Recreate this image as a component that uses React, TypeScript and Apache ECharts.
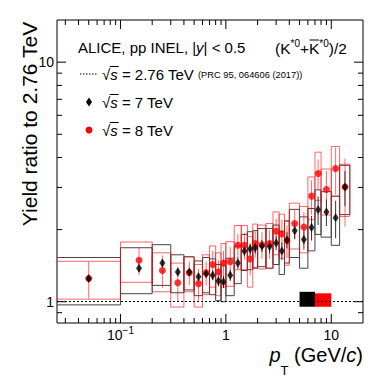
import React, { useEffect, useRef } from 'react';
import * as echarts from 'echarts';

const FONT = '"Liberation Sans", Arial, Helvetica, sans-serif';

// pT bins (GeV/c)
const binLow = [0, 0.1, 0.2, 0.3, 0.4, 0.5, 0.6, 0.7, 0.8, 0.9, 1.0, 1.2, 1.4, 1.6, 1.8, 2.0, 2.4, 2.8, 3.2, 3.6, 4.0, 5.0, 6.0, 7.0, 8.0, 10.0, 12.0];
const binHigh = [0.1, 0.2, 0.3, 0.4, 0.5, 0.6, 0.7, 0.8, 0.9, 1.0, 1.2, 1.4, 1.6, 1.8, 2.0, 2.4, 2.8, 3.2, 3.6, 4.0, 5.0, 6.0, 7.0, 8.0, 10.0, 12.0, 15.0];
const ptCenter = [0.05, 0.15, 0.25, 0.35, 0.45, 0.55, 0.65, 0.75, 0.85, 0.95, 1.1, 1.3, 1.5, 1.7, 1.9, 2.2, 2.6, 3.0, 3.4, 3.8, 4.5, 5.5, 6.5, 7.5, 9.0, 11.0, 13.5];

// sqrt(s) = 7 TeV / 2.76 TeV
const ratio7 = [1.25, 1.38, 1.45, 1.33, 1.33, 1.27, 1.31, 1.29, 1.22, 1.21, 1.29, 1.45, 1.63, 1.66, 1.68, 1.71, 1.70, 1.76, 1.63, 1.81, 1.98, 1.82, 2.04, 2.42, 2.37, 2.24, 3.01];
const stat7 = [0.03, 0.05, 0.05, 0.05, 0.05, 0.05, 0.05, 0.06, 0.06, 0.07, 0.07, 0.08, 0.08, 0.09, 0.09, 0.10, 0.11, 0.12, 0.14, 0.14, 0.15, 0.17, 0.24, 0.33, 0.30, 0.40, 0.50];
const sys7 = [0.28, 0.30, 0.28, 0.24, 0.21, 0.21, 0.22, 0.22, 0.21, 0.21, 0.23, 0.26, 0.28, 0.30, 0.30, 0.31, 0.32, 0.33, 0.33, 0.36, 0.45, 0.44, 0.41, 0.51, 0.51, 0.52, 0.70];

// sqrt(s) = 8 TeV / 2.76 TeV
const ratio8 = [1.25, 1.49, 1.35, 1.20, 1.32, 1.19, 1.32, 1.43, 1.33, 1.45, 1.47, 1.72, 1.72, 1.51, 1.75, 1.73, 1.75, 1.97, 1.92, 1.80, 2.12, 2.05, 2.76, 3.43, 2.94, 3.60, 3.01];
const stat8 = [0.22, 0.20, 0.21, 0.20, 0.15, 0.18, 0.15, 0.20, 0.16, 0.18, 0.22, 0.20, 0.22, 0.22, 0.22, 0.22, 0.24, 0.25, 0.28, 0.28, 0.30, 0.32, 0.45, 0.50, 0.58, 0.80, 0.95];
const sys8 = [0.225, 0.285, 0.25, 0.25, 0.22, 0.24, 0.25, 0.28, 0.27, 0.30, 0.31, 0.36, 0.36, 0.36, 0.36, 0.36, 0.37, 0.40, 0.40, 0.38, 0.46, 0.45, 0.56, 0.78, 0.64, 0.85, 0.74];

// normalization uncertainty boxes
const norm7X = [5, 7];
const norm7Y = [0.953, 1.10];
const norm8X = [7, 10];
const norm8Y = [0.953, 1.084];

// axes
const X_MIN = 0.025;
const X_MAX = 20;
const Y_MIN = 0.815;
const Y_MAX = 15;
const xMajorTicks = [0.1, 1, 10];
const xMinorTicks = [0.03, 0.04, 0.05, 0.06, 0.07, 0.08, 0.09, 0.2, 0.3, 0.4, 0.5, 0.6, 0.7, 0.8, 0.9, 2, 3, 4, 5, 6, 7, 8, 9];
const yMajorTicks = [1, 10];
const yMinorTicks = [0.9, 2, 3, 4, 5, 6, 7, 8, 9];
const xTickLabelVals = [0.1, 1, 10];
const xTickLabelBase = ['10', '1', '10'];
const xTickLabelExp = ['\u22121', '', ''];
const yTickLabelVals = [1, 10];
const yTickLabelText = ['1', '10'];

const RED = '#ff0000';

export default function App() {
  const ref = useRef<HTMLDivElement>(null);
  useEffect(() => {
    const el = ref.current!;
    const chart = echarts.init(el, undefined, { renderer: 'svg', width: 382, height: 382 });
    const ctx = document.createElement('canvas').getContext('2d')!;
    const measure = (t: string, size: number, style = 'normal') => {
      ctx.font = `${style} ${size}px ${FONT}`;
      return ctx.measureText(t).width;
    };

    const boxSeries = (vals: number[], sys: number[], color: string, name: string) => ({
      type: 'custom',
      name,
      clip: true,
      data: ptCenter.map((x, i) => [x, vals[i], binLow[i], binHigh[i], sys[i]]),
      renderItem: (params: any, api: any) => {
        const cs = params.coordSys;
        const y = api.value(1);
        const xlo = api.value(2);
        const xhi = api.value(3);
        const s = api.value(4);
        const left = xlo > 0 ? api.coord([xlo, y])[0] : cs.x - 3;
        const right = api.coord([xhi, y])[0];
        const top = api.coord([xhi, y + s])[1];
        const bottom = api.coord([xhi, y - s])[1];
        return {
          type: 'rect',
          shape: { x: left, y: top, width: right - left, height: bottom - top },
          style: { fill: 'none', stroke: color, lineWidth: 1 },
        };
      },
    });

    const statSeries = (vals: number[], stat: number[], color: string, name: string) => ({
      type: 'custom',
      name,
      clip: true,
      data: ptCenter.map((x, i) => [x, vals[i], stat[i]]),
      renderItem: (params: any, api: any) => {
        const x = api.value(0);
        const y = api.value(1);
        const e = api.value(2);
        const p1 = api.coord([x, y + e]);
        const p2 = api.coord([x, y - e]);
        return {
          type: 'line',
          shape: { x1: p1[0], y1: p1[1], x2: p2[0], y2: p2[1] },
          style: { stroke: color, lineWidth: 1 },
        };
      },
    });

    const normSeries = (xs: number[], ys: number[], color: string) => ({
      type: 'custom',
      clip: true,
      data: [[xs[0], ys[0], xs[1], ys[1]]],
      renderItem: (params: any, api: any) => {
        const p1 = api.coord([api.value(0), api.value(3)]);
        const p2 = api.coord([api.value(2), api.value(1)]);
        return {
          type: 'rect',
          shape: { x: p1[0], y: p1[1], width: p2[0] - p1[0], height: p2[1] - p1[1] },
          style: { fill: color, stroke: 'none' },
        };
      },
    });

    const xTickSeries = {
      type: 'custom',
      clip: false,
      data: [...xMajorTicks.map((v) => [v, 1, 1]), ...xMinorTicks.map((v) => [v, 1, 0])],
      renderItem: (params: any, api: any) => {
        const cs = params.coordSys;
        const px = api.coord([api.value(0), 1])[0];
        const len = api.value(2) ? 9 : 5;
        const st = { stroke: '#000', lineWidth: 1 };
        return {
          type: 'group',
          children: [
            { type: 'line', shape: { x1: px, y1: cs.y + cs.height, x2: px, y2: cs.y + cs.height - len }, style: st },
            { type: 'line', shape: { x1: px, y1: cs.y, x2: px, y2: cs.y + len }, style: st },
          ],
        };
      },
    };

    const yTickSeries = {
      type: 'custom',
      clip: false,
      data: [...yMajorTicks.map((v) => [1, v, 1]), ...yMinorTicks.map((v) => [1, v, 0])],
      renderItem: (params: any, api: any) => {
        const cs = params.coordSys;
        const py = api.coord([1, api.value(1)])[1];
        const len = api.value(2) ? 9 : 5;
        const st = { stroke: '#000', lineWidth: 1 };
        return {
          type: 'group',
          children: [
            { type: 'line', shape: { x1: cs.x, y1: py, x2: cs.x + len, y2: py }, style: st },
            { type: 'line', shape: { x1: cs.x + cs.width, y1: py, x2: cs.x + cs.width - len, y2: py }, style: st },
          ],
        };
      },
    };

    const xLabelSeries = {
      type: 'custom',
      clip: false,
      data: xTickLabelVals.map((v, i) => [v, 1, i]),
      renderItem: (params: any, api: any) => {
        const cs = params.coordSys;
        const i = api.value(2);
        const px = api.coord([api.value(0), 1])[0];
        const base = xTickLabelBase[i];
        const exp = xTickLabelExp[i];
        const wb = measure(base, 14);
        const we = exp ? measure(exp, 10) : 0;
        const x0 = px - (wb + we) / 2;
        const yb = cs.y + cs.height + 12;
        const children: any[] = [
          { type: 'text', x: x0, y: yb, style: { text: base, font: `14px ${FONT}`, fill: '#000', align: 'left', verticalAlign: 'middle' } },
        ];
        if (exp) {
          children.push({ type: 'text', x: x0 + wb, y: yb - 5, style: { text: exp, font: `10px ${FONT}`, fill: '#000', align: 'left', verticalAlign: 'middle' } });
        }
        return { type: 'group', children };
      },
    };

    const yLabelSeries = {
      type: 'custom',
      clip: false,
      data: yTickLabelVals.map((v, i) => [1, v, i]),
      renderItem: (params: any, api: any) => {
        const cs = params.coordSys;
        const i = api.value(2);
        const py = api.coord([1, api.value(1)])[1];
        return {
          type: 'text',
          x: cs.x - 3,
          y: py,
          style: { text: yTickLabelText[i], font: `14px ${FONT}`, fill: '#000', align: 'right', verticalAlign: 'middle' },
        };
      },
    };

    // legend / annotation geometry
    const lx = 102;
    const fs = 15;
    const wSqrt = measure('\u221a', fs);
    const wS = measure('s', fs, 'italic');
    const kx = 275;
    const kfs = 15.5;
    const wA = measure('(K', kfs);
    const wSup = measure('*0', 10);
    const wPlus = measure('+', kfs);
    const wK = measure('K', kfs);
    const kbarX = kx + wA + wSup + wPlus;

    const sqrtText = (y: number, rest: string) => [
      {
        type: 'text',
        x: lx,
        y,
        style: {
          text: `\u221a{i|s}${rest}`,
          font: `${fs}px ${FONT}`,
          fill: '#000',
          align: 'left',
          verticalAlign: 'middle',
          rich: { i: { fontStyle: 'italic', fontSize: fs, fontFamily: FONT } },
        },
      },
      { type: 'line', shape: { x1: lx + wSqrt - 0.5, y1: y - 7.5, x2: lx + wSqrt + wS + 1, y2: y - 7.5 }, style: { stroke: '#000', lineWidth: 1 } },
    ];

    const xTitleY = 355;
    const wRest = measure(' (GeV/', 20) + measure('c', 20, 'italic') + measure(')', 20);
    const wT = measure('T', 13);
    const wp = measure('p', 20, 'italic');
    const xTitleRight = 363;
    const xRestStart = xTitleRight - wRest;
    const xTStart = xRestStart - wT;
    const xpStart = xTStart - wp;

    const graphic: any[] = [
      {
        type: 'text',
        x: 29,
        y: 124,
        rotation: Math.PI / 2,
        style: { text: 'Yield ratio to 2.76 TeV', font: `21px ${FONT}`, fill: '#000', align: 'center', verticalAlign: 'middle' },
      },
      { type: 'text', x: xpStart, y: xTitleY, style: { text: 'p', font: `italic 20px ${FONT}`, fill: '#000', align: 'left', verticalAlign: 'middle' } },
      { type: 'text', x: xTStart, y: xTitleY + 15, style: { text: 'T', font: `13px ${FONT}`, fill: '#000', align: 'left', verticalAlign: 'middle' } },
      {
        type: 'text',
        x: xRestStart,
        y: xTitleY,
        style: {
          text: ' (GeV/{i|c})',
          font: `20px ${FONT}`,
          fill: '#000',
          align: 'left',
          verticalAlign: 'middle',
          rich: { i: { fontStyle: 'italic', fontSize: 20, fontFamily: FONT } },
        },
      },
      {
        type: 'text',
        x: 78,
        y: 47,
        style: {
          text: 'ALICE, pp INEL, |{i|y}| < 0.5',
          font: `15px ${FONT}`,
          fill: '#000',
          align: 'left',
          verticalAlign: 'middle',
          rich: { i: { fontStyle: 'italic', fontSize: 15, fontFamily: FONT } },
        },
      },
      {
        type: 'text',
        x: kx,
        y: 47,
        style: {
          text: '{m|(K}{s|*0}{m|+K}{s|*0}{m|)/2}',
          fill: '#000',
          align: 'left',
          verticalAlign: 'middle',
          rich: {
            m: { fontSize: kfs, fontFamily: FONT, lineHeight: 18, verticalAlign: 'bottom' },
            s: { fontSize: 10, fontFamily: FONT, lineHeight: 10, verticalAlign: 'top', padding: [0, 0, 9, 0] },
          },
        },
      },
      { type: 'line', shape: { x1: kbarX + 0.5, y1: 40, x2: kbarX + wK - 0.5, y2: 40 }, style: { stroke: '#000', lineWidth: 1 } },
      // legend line 2
      { type: 'line', shape: { x1: 80, y1: 74, x2: 97, y2: 74 }, style: { stroke: '#000', lineWidth: 1, lineDash: [1.5, 1.5] } },
      ...sqrtText(74, ' = 2.76 TeV'),
      {
        type: 'text',
        x: 198,
        y: 75,
        style: { text: '(PRC 95, 064606 (2017))', font: `9.3px ${FONT}`, fill: '#000', align: 'left', verticalAlign: 'middle' },
      },
      // legend line 3
      { type: 'polygon', shape: { points: [[89, 97.5], [92, 102], [89, 106.5], [86, 102]] }, style: { fill: '#000' } },
      ...sqrtText(102, ' = 7 TeV'),
      // legend line 4
      { type: 'circle', shape: { cx: 89, cy: 130, r: 3.5 }, style: { fill: RED } },
      ...sqrtText(130, ' = 8 TeV'),
    ];

    const option: any = {
      animation: false,
      backgroundColor: '#fff',
      grid: { left: 57, top: 20, right: 19, bottom: 59, show: true, borderColor: '#000', borderWidth: 1, backgroundColor: 'transparent' },
      xAxis: {
        type: 'log',
        logBase: 10,
        min: X_MIN,
        max: X_MAX,
        axisLine: { show: false },
        axisTick: { show: false },
        axisLabel: { show: false },
        splitLine: { show: false },
      },
      yAxis: {
        type: 'log',
        logBase: 10,
        min: Y_MIN,
        max: Y_MAX,
        axisLine: { show: false },
        axisTick: { show: false },
        axisLabel: { show: false },
        splitLine: { show: false },
      },
      graphic,
      series: [
        {
          type: 'line',
          data: [],
          markLine: {
            silent: true,
            symbol: 'none',
            label: { show: false },
            lineStyle: { type: [2, 2], color: '#000', width: 1 },
            data: [{ yAxis: 1 }],
          },
        },
        boxSeries(ratio7, sys7, '#444', 'sys7'),
        boxSeries(ratio8, sys8, 'rgba(255,0,0,0.6)', 'sys8'),
        normSeries(norm7X, norm7Y, '#000'),
        normSeries(norm8X, norm8Y, RED),
        statSeries(ratio8, stat8, 'rgba(255,0,0,0.6)', 'stat8'),
        {
          type: 'scatter',
          name: '8 TeV',
          symbol: 'circle',
          symbolSize: 7,
          itemStyle: { color: RED },
          data: ptCenter.map((x, i) => [x, ratio8[i]]),
        },
        statSeries(ratio7, stat7, '#333', 'stat7'),
        {
          type: 'scatter',
          name: '7 TeV',
          symbol: 'diamond',
          symbolSize: [6, 9],
          itemStyle: { color: '#000' },
          data: ptCenter.map((x, i) => [x, ratio7[i]]),
        },
        xTickSeries,
        yTickSeries,
        xLabelSeries,
        yLabelSeries,
      ],
    };
    chart.setOption(option);
    return () => chart.dispose();
  }, []);
  return <div ref={ref} style={{ position: 'fixed', left: 0, top: 0, width: 382, height: 382, background: '#fff' }} />;
}
